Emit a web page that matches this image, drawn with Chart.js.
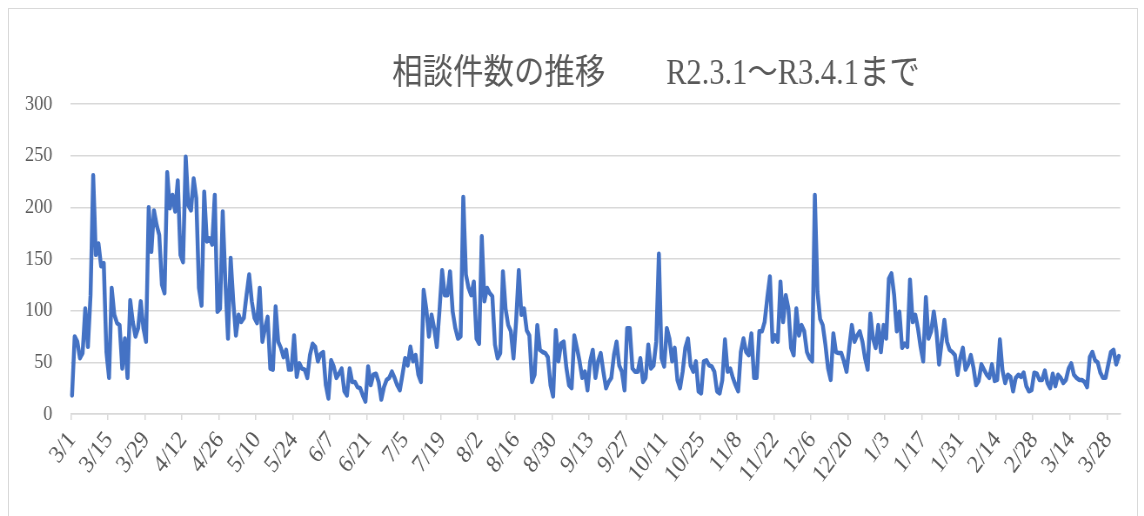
<!DOCTYPE html>
<html>
<head>
<meta charset="utf-8">
<script src="https://cdn.jsdelivr.net/npm/chart.js@4.4.0/dist/chart.umd.min.js"></script>
<style>
  html, body { margin: 0; padding: 0; background: #fff; }
  #wrap { position: relative; width: 1144px; height: 516px; overflow: hidden; }
  #frame { position: absolute; left: 8px; top: 8px; width: 1130px; height: 530px; border: 1px solid #d9d9d9; box-sizing: border-box; }
  /* the original picture is a little narrower than it is tall, so the canvas is squeezed */
  #chart { position: absolute; left: 0; top: 0; transform-origin: 0 0; }
</style>
</head>
<body>
<div id="wrap">
  <div id="frame"></div>
  <canvas id="chart"></canvas>
</div>
<script>
// daily counts, 2020-03-01 .. 2021-04-01
const counts = [
  18, 75, 70, 54, 59, 102, 65, 115, 231, 154, 165, 143, 146, 60, 35, 122, 96, 88, 86, 44,
  73, 35, 110, 89, 75, 83, 109, 83, 70, 200, 157, 197, 183, 173, 125, 117, 234, 199, 212, 196,
  226, 154, 147, 249, 202, 197, 228, 209, 122, 105, 215, 167, 170, 164, 212, 99, 102, 196, 128, 73,
  151, 109, 76, 96, 89, 93, 115, 135, 109, 93, 88, 122, 70, 83, 94, 44, 43, 104, 70, 64,
  55, 62, 43, 43, 76, 36, 49, 44, 43, 35, 57, 68, 65, 51, 58, 60, 28, 15, 52, 46,
  35, 39, 44, 22, 18, 44, 31, 31, 26, 25, 18, 12, 46, 28, 38, 39, 31, 14, 26, 33,
  35, 41, 35, 28, 23, 38, 54, 47, 65, 51, 57, 38, 31, 120, 102, 75, 96, 83, 65, 100,
  139, 115, 115, 138, 99, 83, 73, 75, 210, 135, 122, 115, 128, 73, 68, 172, 109, 122, 117, 114,
  67, 54, 59, 138, 102, 86, 80, 54, 90, 139, 96, 102, 81, 76, 31, 38, 86, 62, 60, 59,
  55, 28, 17, 81, 51, 68, 70, 45, 28, 25, 76, 64, 51, 35, 41, 23, 51, 62, 35, 51,
  59, 41, 25, 31, 35, 57, 70, 47, 41, 23, 83, 83, 44, 41, 41, 54, 31, 35, 67, 44,
  47, 70, 155, 54, 46, 83, 73, 51, 64, 33, 25, 41, 64, 73, 47, 41, 51, 22, 20, 51,
  52, 47, 46, 41, 22, 20, 33, 72, 41, 44, 35, 28, 22, 60, 73, 60, 57, 78, 35, 35,
  80, 80, 89, 112, 133, 70, 76, 70, 128, 89, 115, 102, 64, 57, 102, 76, 86, 80, 60, 54,
  51, 212, 118, 92, 86, 67, 44, 33, 78, 60, 59, 59, 51, 41, 64, 86, 70, 76, 80, 70,
  54, 43, 97, 73, 64, 86, 60, 86, 73, 131, 136, 115, 80, 99, 64, 68, 65, 130, 89, 96,
  83, 65, 51, 113, 73, 80, 99, 80, 48, 70, 91, 70, 62, 60, 57, 38, 54, 64, 43, 48,
  57, 45, 28, 32, 48, 43, 38, 35, 48, 32, 33, 72, 42, 30, 38, 36, 22, 35, 38, 36,
  40, 27, 22, 23, 40, 39, 33, 33, 42, 30, 25, 39, 27, 38, 35, 30, 33, 44, 49, 38,
  35, 33, 33, 31, 26, 55, 60, 52, 50, 40, 35, 35, 48, 60, 62, 48, 56
];

// labels shown under the axis, one every 14 days
const tickLabels = [
  '3/1', '3/15', '3/29', '4/12', '4/26', '5/10', '5/24', '6/7', '6/21', '7/5',
  '7/19', '8/2', '8/16', '8/30', '9/13', '9/27', '10/11', '10/25', '11/8', '11/22',
  '12/6', '12/20', '1/3', '1/17', '1/31', '2/14', '2/28', '3/14', '3/28'
];
const labelEvery = 14;

const yTicks = [0, 50, 100, 150, 200, 250, 300];
const chartTitle = '相談件数の推移　　R2.3.1～R3.4.1まで';

// one category per day
const days = [];
const start = new Date(2020, 2, 1);
for (let i = 0; i < counts.length; i++) {
  const d = new Date(start.getFullYear(), start.getMonth(), start.getDate() + i);
  days.push((d.getMonth() + 1) + '/' + d.getDate());
}

// horizontal squeeze of the whole picture
const squash = 0.87;
const canvas = document.getElementById('chart');
canvas.width = Math.round(1144 / squash);
canvas.height = 516;
canvas.style.transform = 'scaleX(' + squash + ')';

const textColor = '#595959';
const gridColor = '#d9d9d9';
const serif = "'Liberation Serif', 'Times New Roman', serif";

// title is drawn by hand so it can sit off-centre like the original
const titlePlugin = {
  id: 'titleText',
  afterDraw(chart) {
    const ctx = chart.ctx;
    ctx.save();
    ctx.fillStyle = textColor;
    ctx.font = "35px 'Liberation Serif', 'Noto Sans CJK JP', serif";
    ctx.textAlign = 'center';
    ctx.textBaseline = 'middle';
    ctx.fillText(chartTitle, 656 / squash, 75);
    ctx.restore();
  }
};

new Chart(canvas, {
  type: 'line',
  data: {
    labels: days,
    datasets: [{
      data: counts,
      borderColor: '#4472c4',
      borderWidth: 4.5,
      borderJoinStyle: 'round',
      borderCapStyle: 'round',
      pointRadius: 0,
      tension: 0,
      fill: false
    }]
  },
  options: {
    responsive: false,
    animation: false,
    layout: { padding: { top: 104, right: canvas.width - 1122 / squash, bottom: 0, left: 0 } },
    plugins: {
      legend: { display: false },
      tooltip: { enabled: false },
      title: { display: false }
    },
    scales: {
      x: {
        offset: true,
        grid: {
          offset: true,
          drawOnChartArea: false,
          tickLength: 6,
          lineWidth: 1.5,
          color: (c) => (c.index % labelEvery === 0 ? gridColor : 'rgba(0,0,0,0)')
        },
        border: { color: gridColor, width: 1.5 },
        ticks: {
          autoSkip: false,
          minRotation: 50,
          maxRotation: 50,
          padding: 6,
          color: textColor,
          font: { family: serif, size: 25 },
          callback: (v, i) => (i % labelEvery === 0 ? tickLabels[i / labelEvery] || '' : '')
        },
        afterFit: (scale) => { scale.height = 102; }
      },
      y: {
        min: yTicks[0],
        max: yTicks[yTicks.length - 1],
        afterBuildTicks: (scale) => { scale.ticks = yTicks.map(v => ({ value: v })); },
        grid: { color: gridColor, lineWidth: 1.5, drawTicks: false },
        border: { display: false },
        ticks: {
          padding: 21,
          color: textColor,
          font: { family: serif, size: 21 }
        },
        afterFit: (scale) => { scale.width = 70.7 / squash; }
      }
    }
  },
  plugins: [titlePlugin]
});
</script>
</body>
</html>
